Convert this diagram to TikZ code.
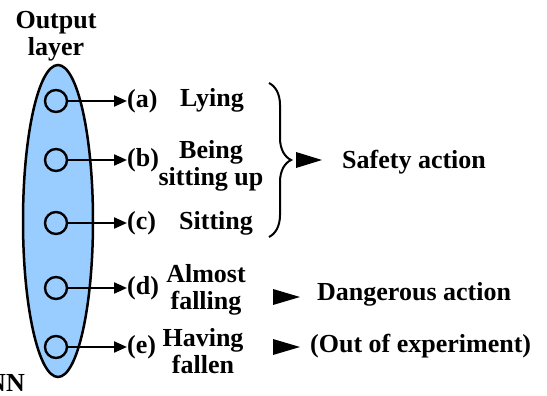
\documentclass[tikz,border=0pt]{standalone}
\usepackage{fontspec}
\setmainfont{Liberation Serif}[BoldFont={Liberation Serif Bold}]
\newfontfamily\labelfont{Liberation Serif}[BoldFont={Liberation Serif Bold}]
\usetikzlibrary{arrows.meta,decorations.pathreplacing,shapes.geometric}
\definecolor{layerblue}{RGB}{153,204,255}
\begin{document}
\begin{tikzpicture}[x=1pt,y=-1pt,
  lbl/.style={font=\labelfont\fontsize{26}{27}\selectfont\bfseries, inner sep=0pt, align=center},
  unit/.style={circle, draw, line width=2.4pt, minimum size=22pt, inner sep=0pt},
  outarrow/.style={line width=2.2pt, -{Triangle[length=13pt,width=11pt]}},
  pointer/.style={fill=black}]
\useasboundingbox (0,0) rectangle (547,396);

% output layer with its five units
\node[draw, ellipse, line width=2.5pt, fill=layerblue, minimum width=70pt,
      minimum height=312pt, inner sep=0pt] (layer) at (58,221) {};
\node[lbl] (title) at (56,36) {Output\\layer};
\node[lbl, anchor=east] (nn) at (25,383) {NN};

\foreach \i/\y in {1/101,2/160,3/223,4/288,5/347}
  \node[unit] (u\i) at (56,\y) {};

% class letters
\node[lbl, anchor=west] (la) at (127,101) {(a)};
\node[lbl, anchor=west] (lb) at (127,160) {(b)};
\node[lbl, anchor=west] (lc) at (127,223) {(c)};
\node[lbl, anchor=west] (ld) at (127,288) {(d)};
\node[lbl, anchor=west] (le) at (127,347) {(e)};

\foreach \i/\l in {1/la,2/lb,3/lc,4/ld,5/le}
  \draw[outarrow] (u\i.east) -- (\l.west);

% class names
\node[lbl] (ta) at (212,100) {Lying};
\node[lbl] (tb) at (211,166) {Being\\sitting up};
\node[lbl] (tc) at (216,223) {Sitting};
\node[lbl] (td) at (206,290) {Almost\\falling};
\node[lbl] (te) at (203,351) {Having\\fallen};

% grouping brace
\coordinate (bt) at (269,83);
\coordinate (bb) at (269,237);
\draw[decorate, decoration={brace, amplitude=22pt}, line width=2pt] (bt) -- (bb);

% outcome pointers and texts
\fill[pointer] (296,152) -- (322,160) -- (296,168) -- cycle;
\node[lbl, anchor=west] (safe) at (342,162) {Safety action};
\fill[pointer] (273,289) -- (300,297) -- (273,305) -- cycle;
\node[lbl, anchor=west] (danger) at (317,294) {Dangerous action};
\fill[pointer] (273,339) -- (300,347) -- (273,355) -- cycle;
\node[lbl, anchor=west] (outexp) at (310,346) {(Out of experiment)};
\end{tikzpicture}
\end{document}
